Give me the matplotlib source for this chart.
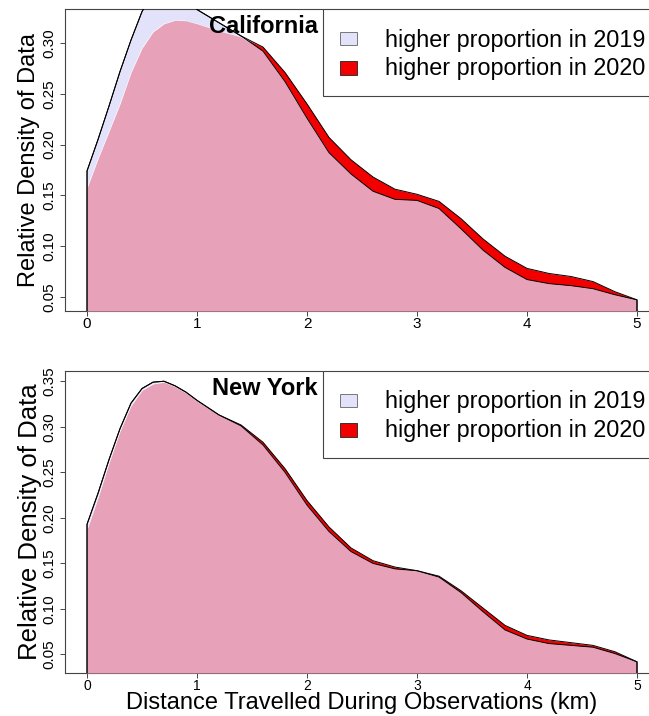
import numpy as np
import matplotlib.pyplot as plt
from matplotlib.patches import Rectangle

plt.rcParams['font.family'] = ['Liberation Sans', 'DejaVu Sans']

# distance grid (km) and density values
dist_km = [0, 0.1, 0.2, 0.3, 0.4, 0.5, 0.6, 0.7, 0.8, 0.9, 1.0, 1.2, 1.4, 1.6, 1.8, 2.0,
           2.2, 2.4, 2.6, 2.8, 3.0, 3.2, 3.4, 3.6, 3.8, 4.0, 4.2, 4.4, 4.6, 4.8, 5.0]

ca_2019 = [0.174, 0.205, 0.238, 0.272, 0.303, 0.331, 0.350, 0.358, 0.357, 0.346, 0.333, 0.320,
           0.307, 0.292, 0.262, 0.226, 0.192, 0.171, 0.154, 0.146, 0.145, 0.137, 0.117, 0.096,
           0.079, 0.067, 0.063, 0.061, 0.058, 0.052, 0.047]
ca_2020 = [0.157, 0.186, 0.213, 0.240, 0.271, 0.295, 0.311, 0.319, 0.3225, 0.322, 0.319, 0.312,
           0.306, 0.296, 0.271, 0.240, 0.207, 0.185, 0.168, 0.156, 0.151, 0.144, 0.127, 0.107,
           0.090, 0.078, 0.073, 0.070, 0.065, 0.055, 0.047]

ny_2019 = [0.193, 0.227, 0.264, 0.298, 0.326, 0.342, 0.349, 0.350, 0.345, 0.338, 0.329, 0.313,
           0.301, 0.280, 0.250, 0.214, 0.185, 0.163, 0.150, 0.144, 0.142, 0.135, 0.118, 0.097,
           0.077, 0.067, 0.062, 0.060, 0.058, 0.051, 0.042]
ny_2020 = [0.187, 0.222, 0.260, 0.295, 0.323, 0.340, 0.347, 0.349, 0.344, 0.337, 0.328, 0.313,
           0.302, 0.283, 0.254, 0.219, 0.190, 0.167, 0.153, 0.146, 0.142, 0.136, 0.120, 0.101,
           0.082, 0.071, 0.066, 0.063, 0.060, 0.053, 0.042]

x_ticks = [0, 1, 2, 3, 4, 5]
ca_yticks = [0.05, 0.10, 0.15, 0.20, 0.25, 0.30]
ny_yticks = [0.05, 0.10, 0.15, 0.20, 0.25, 0.30, 0.35]

PINK = '#E7A1B8'
LAVENDER = '#E2E2FA'
RED = '#F20000'
EDGE = '#444444'


def density_panel(ax, title, d2019, d2020, yticks, xtick_size, xtick_pad):
    x = np.array(dist_km)
    a = np.array(d2019)
    b = np.array(d2020)

    # R style 4% padding, y range from the 2020 curve
    ax.set_xlim(x.min() - 0.04 * np.ptp(x), x.max() + 0.04 * np.ptp(x))
    ybot = b.min() - 0.04 * np.ptp(b)
    ax.set_ylim(ybot, b.max() + 0.04 * np.ptp(b))

    ax.fill_between(x, b, a, where=a >= b, interpolate=True, color=LAVENDER, lw=0)
    ax.fill_between(x, a, b, where=b >= a, interpolate=True, color=RED, lw=0)
    ax.fill_between(x, ybot, np.minimum(a, b), color=PINK, lw=0, zorder=2.6)

    # outlines: 2019 curve and the upper envelope, closed down to the axis
    for curve in (a, np.maximum(a, b)):
        ax.plot(np.r_[x[0], x, x[-1]], np.r_[ybot, curve, ybot], color='black', lw=0.7, zorder=3)

    ax.set_xticks(x_ticks, [str(t) for t in x_ticks])
    ax.set_yticks(yticks, [f'{t:.2f}' for t in yticks], rotation=90, va='center')
    ax.tick_params(axis='y', length=3.6, width=0.7, color=EDGE, labelsize=11, pad=2.5)
    ax.tick_params(axis='x', length=3.6, width=0.7, color=EDGE, labelsize=xtick_size, pad=xtick_pad)
    for s in ax.spines.values():
        s.set_color(EDGE)
        s.set_linewidth(0.8)

    ax.text(0.426, 0.9205, title, transform=ax.transAxes, ha='right', va='baseline',
            fontsize=17, fontweight='bold', zorder=6)

    # legend box drawn R style at the top right
    ax.add_patch(Rectangle((0.4343, 0.712), 0.5657, 0.288, transform=ax.transAxes,
                           facecolor='white', edgecolor=EDGE, lw=0.8, zorder=5))
    ax.add_patch(Rectangle((0.4630, 0.8808), 0.0286, 0.043, transform=ax.transAxes,
                           facecolor=LAVENDER, edgecolor='#777777', lw=0.7, zorder=6))
    ax.add_patch(Rectangle((0.4630, 0.7815), 0.0286, 0.0463, transform=ax.transAxes,
                           facecolor=RED, edgecolor='#333333', lw=0.7, zorder=6))
    ax.text(0.5387, 0.8974, 'higher proportion in 2019', transform=ax.transAxes,
            ha='left', va='center', fontsize=16.8, zorder=6)
    ax.text(0.5387, 0.8036, 'higher proportion in 2020', transform=ax.transAxes,
            ha='left', va='center', fontsize=16.8, zorder=6)


fig = plt.figure(figsize=(6.49, 7.16), dpi=100)
ax1 = fig.add_axes([0.1002, 0.5656, 0.9152, 0.4218])
ax2 = fig.add_axes([0.1002, 0.0601, 0.9152, 0.4218])

density_panel(ax1, 'California', ca_2019, ca_2020, ca_yticks, 11, 0.5)
density_panel(ax2, 'New York', ny_2019, ny_2020, ny_yticks, 10, 0.8)

ax1.set_ylabel('Relative Density of Data', fontsize=17)
ax1.yaxis.set_label_coords(-0.042, 0.5)
ax2.set_ylabel('Relative Density of Data', fontsize=18.5)
ax2.yaxis.set_label_coords(-0.039, 0.5)
ax2.set_xlabel('Distance Travelled During Observations (km)', fontsize=17)
ax2.xaxis.set_label_coords(0.5, -0.064)

fig.savefig('out.png', dpi=100)
